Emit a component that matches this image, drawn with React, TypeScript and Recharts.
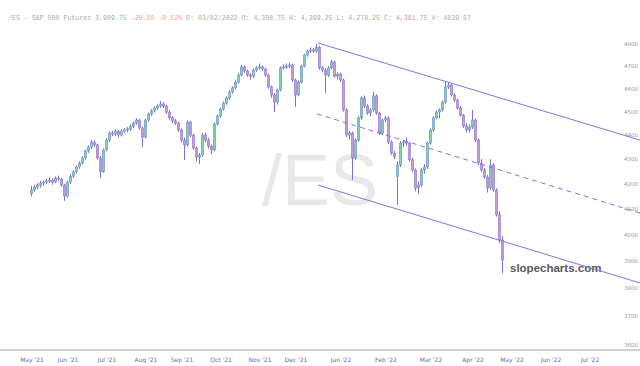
import React from "react";
import { ComposedChart, Bar, XAxis, YAxis, ReferenceLine } from "recharts";

// daily candles [open, high, low, close], grouped by month label section
const may21 = [
  [4160, 4192, 4150, 4175], [4175, 4196, 4168, 4187], [4187, 4202, 4178, 4195], [4195, 4212, 4186, 4203],
  [4203, 4214, 4192, 4207], [4207, 4220, 4198, 4211], [4211, 4226, 4203, 4215], [4215, 4222, 4196, 4207],
  [4207, 4230, 4202, 4223], [4223, 4233, 4210, 4219], [4219, 4224, 4188, 4195], [4195, 4200, 4132, 4151],
];
const jun21 = [
  [4151, 4212, 4146, 4207], [4207, 4238, 4200, 4231], [4231, 4255, 4224, 4248], [4248, 4274, 4241, 4268],
  [4268, 4291, 4260, 4284], [4284, 4312, 4278, 4305], [4305, 4340, 4298, 4334], [4334, 4357, 4326, 4350],
  [4350, 4380, 4342, 4371], [4371, 4378, 4350, 4359], [4359, 4364, 4298, 4305], [4305, 4312, 4224, 4248],
  [4248, 4344, 4244, 4338],
];
const jul21 = [
  [4338, 4386, 4332, 4379], [4379, 4416, 4370, 4409], [4409, 4418, 4395, 4404], [4404, 4424, 4396, 4417],
  [4417, 4422, 4390, 4400], [4400, 4424, 4394, 4417], [4417, 4430, 4408, 4422], [4422, 4434, 4412, 4426],
  [4426, 4444, 4418, 4438], [4438, 4458, 4430, 4451], [4451, 4472, 4444, 4464], [4464, 4468, 4424, 4430],
  [4430, 4436, 4350, 4392],
];
const aug21 = [
  [4392, 4470, 4386, 4464], [4464, 4496, 4458, 4490], [4490, 4510, 4482, 4503], [4503, 4522, 4496, 4516],
  [4516, 4532, 4508, 4524], [4524, 4545, 4516, 4533], [4533, 4540, 4515, 4524], [4524, 4530, 4490, 4498],
  [4498, 4506, 4466, 4473], [4473, 4480, 4452, 4460], [4460, 4468, 4442, 4451], [4451, 4456, 4414, 4422],
];
const sep21 = [
  [4422, 4428, 4370, 4379], [4379, 4390, 4297, 4359], [4359, 4462, 4352, 4455], [4455, 4460, 4392, 4400],
  [4400, 4406, 4338, 4346], [4346, 4352, 4290, 4309], [4309, 4326, 4280, 4317], [4317, 4408, 4310, 4400],
  [4400, 4412, 4370, 4379], [4379, 4388, 4344, 4354], [4354, 4360, 4320, 4338], [4338, 4454, 4332, 4447],
  [4447, 4488, 4440, 4481],
];
const oct21 = [
  [4481, 4518, 4474, 4511], [4511, 4544, 4504, 4537], [4537, 4566, 4530, 4559], [4559, 4592, 4552, 4585],
  [4585, 4610, 4578, 4603], [4603, 4636, 4596, 4629], [4629, 4668, 4622, 4660], [4660, 4705, 4654, 4696],
  [4696, 4702, 4670, 4678], [4678, 4684, 4652, 4660], [4660, 4668, 4640, 4655], [4655, 4690, 4648, 4682],
  [4682, 4700, 4674, 4692],
];
const nov21 = [
  [4692, 4712, 4684, 4696], [4696, 4704, 4680, 4687], [4687, 4692, 4652, 4660], [4660, 4666, 4600, 4607],
  [4607, 4614, 4560, 4572], [4572, 4580, 4498, 4541], [4541, 4600, 4530, 4594], [4594, 4700, 4588, 4692],
  [4692, 4708, 4684, 4696], [4696, 4712, 4688, 4700], [4700, 4716, 4690, 4705], [4705, 4710, 4630, 4638],
];
const dec21 = [
  [4638, 4644, 4520, 4572], [4572, 4636, 4566, 4629], [4629, 4706, 4622, 4700], [4700, 4756, 4694, 4750],
  [4750, 4775, 4742, 4768], [4768, 4785, 4758, 4773], [4773, 4782, 4760, 4768], [4768, 4800, 4760, 4786],
  [4786, 4792, 4684, 4692], [4692, 4700, 4672, 4682], [4682, 4690, 4581, 4660], [4660, 4700, 4652, 4692],
  [4692, 4728, 4686, 4719], [4719, 4724, 4648, 4655], [4655, 4672, 4640, 4664],
];
const jan22 = [
  [4664, 4670, 4630, 4638], [4638, 4644, 4500, 4507], [4507, 4515, 4392, 4400], [4400, 4418, 4380, 4409],
  [4409, 4415, 4215, 4305], [4305, 4386, 4296, 4379], [4379, 4480, 4372, 4473], [4473, 4566, 4466, 4559],
  [4559, 4570, 4516, 4524], [4524, 4532, 4486, 4494], [4494, 4514, 4480, 4507], [4507, 4586, 4500, 4568],
  [4568, 4575, 4486, 4494], [4494, 4500, 4400, 4409], [4409, 4470, 4400, 4464],
];
const feb22 = [
  [4464, 4482, 4455, 4473], [4473, 4480, 4362, 4371], [4371, 4378, 4318, 4325], [4325, 4334, 4300, 4309],
  [4230, 4290, 4116, 4276], [4276, 4375, 4268, 4367], [4367, 4380, 4350, 4371], [4371, 4390, 4355, 4367],
  [4367, 4372, 4290, 4297], [4297, 4305, 4248, 4256], [4256, 4262, 4170, 4183], [4183, 4210, 4160, 4195],
  [4195, 4262, 4188, 4256], [4256, 4280, 4240, 4268], [4268, 4372, 4260, 4367],
];
const mar22 = [
  [4367, 4428, 4360, 4422], [4422, 4480, 4414, 4473], [4473, 4505, 4466, 4498], [4498, 4514, 4470, 4507],
  [4507, 4548, 4500, 4541], [4541, 4629, 4534, 4607], [4607, 4630, 4598, 4616], [4616, 4620, 4566, 4572],
  [4572, 4580, 4540, 4550], [4550, 4556, 4508, 4516], [4516, 4524, 4478, 4485], [4485, 4490, 4430, 4438],
  [4438, 4450, 4412, 4422], [4422, 4446, 4410, 4434],
];
const apr22 = [
  [4434, 4507, 4426, 4464], [4464, 4470, 4370, 4379], [4379, 4386, 4276, 4284], [4284, 4300, 4248, 4256],
  [4256, 4264, 4220, 4227], [4227, 4235, 4165, 4183], [4183, 4300, 4176, 4276], [4276, 4284, 4168, 4175],
  [4175, 4182, 4070, 4077], [4077, 4090, 3970, 3980], [3980, 3995, 3856, 3905],
];

const monthTicks = [0, 12, 25, 38, 50, 63, 76, 88, 103, 118, 133, 147, 160, 173, 186];
const monthLabels = [
  "May '21", "Jun '21", "Jul '21", "Aug '21", "Sep '21", "Oct '21", "Nov '21", "Dec '21",
  "Jan '22", "Feb '22", "Mar '22", "Apr '22", "May '22", "Jun '22", "Jul '22",
];
const priceTicks = [3600, 3700, 3800, 3900, 4000, 4100, 4200, 4300, 4400, 4500, 4600, 4700, 4800];

// regression channel: [x1, y1, x2, y2]
const channelUpper = [95.3, 4805, 202.7, 4379];
const channelMid = [95, 4490, 202.7, 4084];
const channelLower = [95.3, 4195, 202.7, 3820];

const candles = [
  ...may21, ...jun21, ...jul21, ...aug21, ...sep21, ...oct21,
  ...nov21, ...dec21, ...jan22, ...feb22, ...mar22, ...apr22,
].map(([o, h, l, c], i) => ({ i, o, h, l, c, range: [l, h] }));

const WICK = "#7774d6";
const UP = "#7fd0ac";
const DOWN = "#c996d6";

// eslint-disable-next-line @typescript-eslint/no-explicit-any
const Candle = (props: any) => {
  const { x, y, width, height, payload } = props;
  if (!payload) return null;
  const top = Math.min(y, y + height);
  const bottom = Math.max(y, y + height);
  const { o, h, l, c } = payload;
  const span = Math.log(h) - Math.log(l) || 1;
  const py = (v: number) => top + ((bottom - top) * (Math.log(h) - Math.log(v))) / span;
  const cx = x + width / 2;
  const yo = py(o);
  const yc = py(c);
  const bt = Math.min(yo, yc);
  const bh = Math.max(Math.abs(yc - yo), 1);
  return (
    <g>
      <line x1={cx} x2={cx} y1={top} y2={bottom} stroke={WICK} strokeWidth={1} />
      <rect x={cx - 1.3} y={bt} width={2.6} height={bh} fill={c >= o ? UP : DOWN} stroke={WICK} strokeWidth={0.4} />
    </g>
  );
};

// eslint-disable-next-line @typescript-eslint/no-explicit-any
const PriceTick = (props: any) => (
  <text x={638} y={props.y} dy={2} textAnchor="end" fontSize={5.5} fill="#9a9a9a" fontFamily="DejaVu Sans">
    {props.payload.value}
  </text>
);

const seg = (a: number[]) => [{ x: a[0], y: a[1] }, { x: a[2], y: a[3] }];

export default function App() {
  return (
    <div style={{ position: "fixed", left: 0, top: 0, width: 640, height: 366, background: "#fff" }}>
      <svg width={640} height={366} style={{ position: "absolute", left: 0, top: 0 }}>
        <text x={8} y={20} fontFamily="Liberation Mono, monospace" fontSize={6.6} fill="#aaa">
          /ES - S&amp;P 500 Futures 3,909.75{" "}
          <tspan fill="#f29a9a">-20.50 -0.52%</tspan>
          {" "}D: 03/02/2022 O: 4,308.75 H: 4,399.25 L: 4,278.25 C: 4,381.75 V: 4839.57
        </text>
        <text x={262} y={205} fontFamily="Liberation Sans, Arial, sans-serif" fontSize={72} fill="#e8e8e8">
          /ES
        </text>
        <text x={510} y={272} fontFamily="Liberation Sans, Arial, sans-serif" fontSize={11.5} fontWeight="bold" fill="#5a5a5a">
          slopecharts.com
        </text>
      </svg>
      <div style={{ position: "absolute", left: 0, top: 0 }}>
        <ComposedChart width={640} height={366} data={candles} margin={{ top: 30, right: 0, bottom: 0, left: 0 }}>
          <XAxis
            dataKey="i"
            type="number"
            domain={[-32 / 3, 608 / 3]}
            allowDataOverflow
            ticks={monthTicks}
            tickFormatter={(v) => monthLabels[monthTicks.indexOf(v)] ?? ""}
            tick={{ fontSize: 6, fill: "#6a6aa0", fontFamily: "DejaVu Sans" }}
            tickLine={false}
            axisLine={{ stroke: "#a0a0a0" }}
            height={16}
            tickMargin={2}
          />
          <YAxis
            orientation="right"
            mirror
            width={30}
            scale="log"
            domain={[3583, 4865]}
            allowDataOverflow
            ticks={priceTicks}
            interval={0}
            tick={<PriceTick />}
            tickLine={false}
            axisLine={false}
          />
          <ReferenceLine segment={seg(channelUpper)} stroke="#7b78e0" strokeWidth={1} ifOverflow="visible" />
          <ReferenceLine segment={seg(channelMid)} stroke="#7b78e0" strokeWidth={1} strokeDasharray="5 4" ifOverflow="visible" />
          <ReferenceLine segment={seg(channelLower)} stroke="#7b78e0" strokeWidth={1} ifOverflow="visible" />
          <Bar dataKey="range" shape={<Candle />} barSize={2} isAnimationActive={false} />
        </ComposedChart>
      </div>
    </div>
  );
}
